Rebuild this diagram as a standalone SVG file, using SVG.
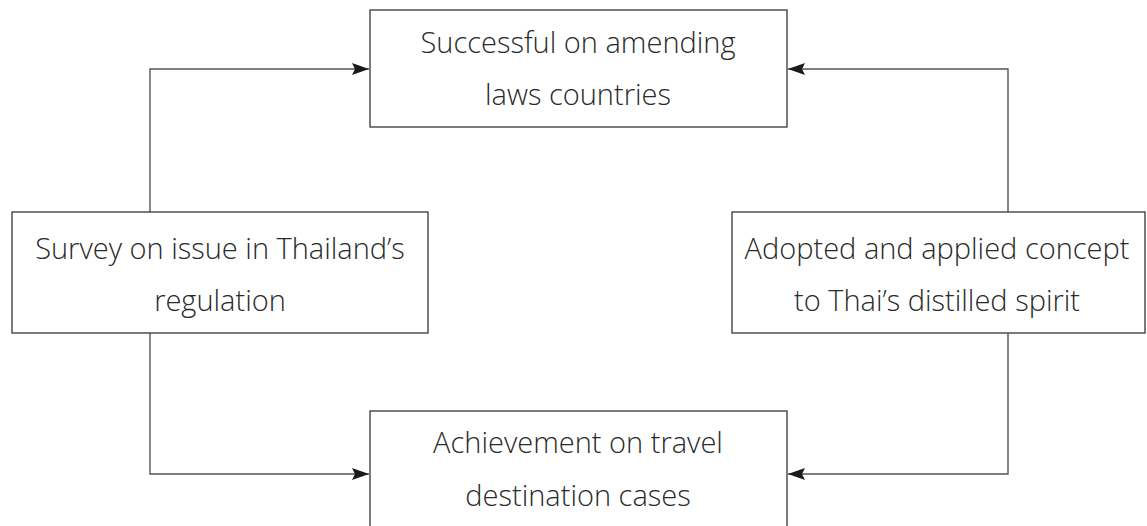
<svg xmlns="http://www.w3.org/2000/svg" width="1147" height="526" viewBox="0 0 1147 526">
<defs>
<style>
.box{fill:#fff;stroke:#444;stroke-width:1.4}
.t{font-family:"Open Sans","Noto Sans",sans-serif;font-weight:300;font-size:29px;fill:#2a2a2a;text-anchor:middle}
.c{fill:none;stroke:#555;stroke-width:1.4}
</style>
<marker id="ah" markerWidth="17" markerHeight="12" refX="17" refY="6" orient="auto" markerUnits="userSpaceOnUse">
<path d="M0,0 L17,6 L0,12 L3,6 Z" fill="#1a1a1a"/>
</marker>
</defs>
<rect width="1147" height="526" fill="#fff"/>
<g id="connectors">
<path class="c" d="M150,212 V69 H369" marker-end="url(#ah)"/>
<path class="c" d="M1008,212 V69 H788" marker-end="url(#ah)"/>
<path class="c" d="M150,333 V474 H369" marker-end="url(#ah)"/>
<path class="c" d="M1008,333 V474 H788" marker-end="url(#ah)"/>
</g>
<g id="n1">
<rect class="box" x="370" y="10" width="417" height="117"/>
<text class="t" x="578" y="53">Successful on amending</text>
<text class="t" x="578" y="105">laws countries</text>
</g>
<g id="n2">
<rect class="box" x="12" y="212" width="416" height="121"/>
<text class="t" x="220" y="259">Survey on issue in Thailand’s</text>
<text class="t" x="220" y="311">regulation</text>
</g>
<g id="n3">
<rect class="box" x="732" y="212" width="413" height="121"/>
<text class="t" x="937" y="259">Adopted and applied concept</text>
<text class="t" x="937" y="311">to Thai’s distilled spirit</text>
</g>
<g id="n4">
<rect class="box" x="370" y="411" width="417" height="130"/>
<text class="t" x="578" y="453">Achievement on travel</text>
<text class="t" x="578" y="506">destination cases</text>
</g>
</svg>
